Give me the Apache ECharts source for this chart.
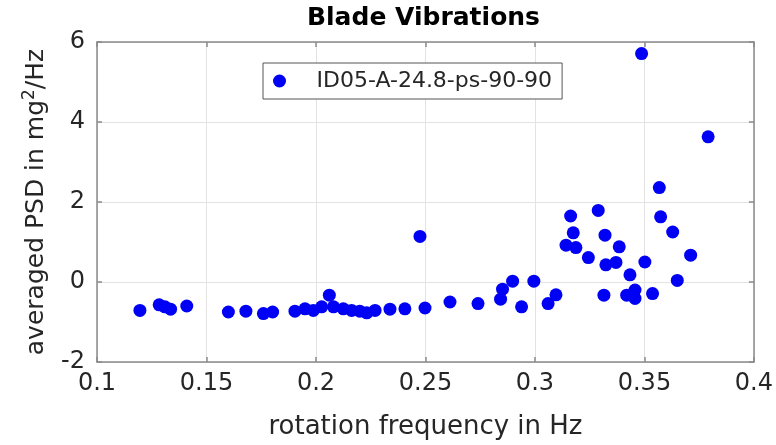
<!DOCTYPE html>
<html>
<head>
<meta charset="utf-8">
<script src="https://cdn.jsdelivr.net/npm/echarts@6/dist/echarts.min.js"></script>
<style>html,body{margin:0;padding:0;background:#fff;}#c{width:776px;height:445px;}</style>
</head>
<body>
<div id="c"></div>
<script>
const titleText = 'Blade Vibrations';
const seriesName = 'ID05-A-24.8-ps-90-90';
const xTitle = 'rotation frequency in Hz';
const xMin = 0.1, xMax = 0.4, xStep = 0.05;
const yMin = -2, yMax = 6, yStep = 2;

const freq = [
  0.1196, 0.1284, 0.1310, 0.1336, 0.1410, 0.1600, 0.1680, 0.1760, 0.1802,
  0.1904, 0.1950, 0.1988, 0.2026, 0.2061, 0.2080, 0.2125, 0.2163, 0.2200,
  0.2232, 0.2270, 0.2338, 0.2406, 0.2475, 0.2498, 0.2612, 0.2740, 0.2843,
  0.2852, 0.2898, 0.2939, 0.2995, 0.3060, 0.3096, 0.3142, 0.3163, 0.3175,
  0.3187, 0.3244, 0.3289, 0.3315, 0.3320, 0.3324, 0.3370, 0.3385, 0.3434,
  0.3419, 0.3457, 0.3457, 0.3487, 0.3502, 0.3537, 0.3568, 0.3574, 0.3629,
  0.3650, 0.3711, 0.3791
];
const psd = [
  -0.71, -0.57, -0.62, -0.68, -0.60, -0.75, -0.73, -0.79, -0.75,
  -0.73, -0.67, -0.71, -0.62, -0.33, -0.62, -0.67, -0.71, -0.73,
  -0.77, -0.71, -0.68, -0.67, 1.14, -0.65, -0.50, -0.54, -0.43,
  -0.18, 0.02, -0.62, 0.02, -0.54, -0.32, 0.92, 1.65, 1.23,
  0.86, 0.61, 1.79, -0.33, 1.17, 0.43, 0.49, 0.88, 0.18,
  -0.33, -0.20, -0.41, 5.71, 0.50, -0.29, 2.36, 1.63, 1.25,
  0.04, 0.67, 3.63
];

const points = freq.map((f, i) => [f, psd[i]]);
const FONT = 'DejaVu Sans';
const axisLineStyle = { color: '#8a8a8a', width: 1.5 };

const chart = echarts.init(document.getElementById('c'), null, { renderer: 'canvas' });
chart.setOption({
  animation: false,
  backgroundColor: '#ffffff',
  title: {
    text: titleText,
    left: 307,
    top: 6,
    padding: 0,
    textStyle: { fontFamily: FONT, fontSize: 25, fontWeight: 'bold', color: '#000' }
  },
  legend: {
    left: 263,
    top: 63,
    padding: [7, 10, 7, 10],
    itemWidth: 64,
    itemHeight: 13,
    itemGap: 5,
    borderColor: '#555555',
    borderWidth: 1,
    backgroundColor: '#ffffff',
    textStyle: { fontFamily: FONT, fontSize: 22, color: '#262626' },
    data: [{ name: seriesName, icon: 'circle' }]
  },
  grid: { left: 97, right: 22, top: 42, bottom: 83 },
  xAxis: [{
    type: 'value', min: xMin, max: xMax, interval: xStep,
    name: xTitle, nameLocation: 'middle', nameGap: 52,
    nameTextStyle: { fontFamily: FONT, fontSize: 26, color: '#262626' },
    axisLine: { show: true, onZero: false, lineStyle: axisLineStyle },
    axisTick: { show: true, inside: true, length: 5, lineStyle: axisLineStyle },
    axisLabel: { fontFamily: FONT, fontSize: 24, color: '#262626', margin: 10,
      formatter: v => String(+v.toFixed(2)) },
    splitLine: { show: true, lineStyle: { color: '#e3e3e3', width: 1 } }
  }, {
    type: 'value', position: 'top', min: xMin, max: xMax, interval: xStep,
    axisLine: { show: true, onZero: false, lineStyle: axisLineStyle },
    axisTick: { show: true, inside: true, length: 5, lineStyle: axisLineStyle },
    axisLabel: { show: false }, splitLine: { show: false }
  }],
  yAxis: [{
    type: 'value', min: yMin, max: yMax, interval: yStep,
    name: 'averaged PSD in mg{sup|2}/Hz', nameLocation: 'middle', nameGap: 45,
    nameTextStyle: {
      fontFamily: FONT, fontSize: 25, color: '#262626',
      rich: { sup: { fontFamily: FONT, fontSize: 17, color: '#262626', verticalAlign: 'top', padding: [0, 0, 14, 0] } }
    },
    axisLine: { show: true, onZero: false, lineStyle: axisLineStyle },
    axisTick: { show: true, inside: true, length: 5, lineStyle: axisLineStyle },
    axisLabel: { fontFamily: FONT, fontSize: 24, color: '#262626', margin: 12 },
    splitLine: { show: true, lineStyle: { color: '#e3e3e3', width: 1 } }
  }, {
    type: 'value', position: 'right', min: yMin, max: yMax, interval: yStep,
    axisLine: { show: true, onZero: false, lineStyle: axisLineStyle },
    axisTick: { show: true, inside: true, length: 5, lineStyle: axisLineStyle },
    axisLabel: { show: false }, splitLine: { show: false }
  }],
  series: [{
    name: seriesName,
    type: 'scatter',
    xAxisIndex: 0,
    yAxisIndex: 0,
    symbol: 'circle',
    symbolSize: 13,
    itemStyle: { color: '#0000f5', opacity: 1 },
    data: points
  }]
});
</script>
</body>
</html>
